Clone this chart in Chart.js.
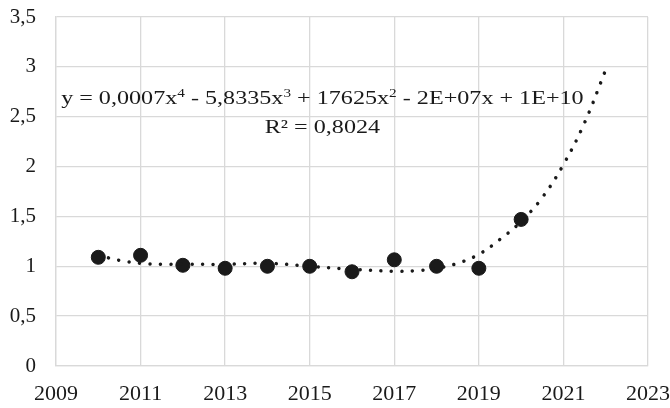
<!DOCTYPE html>
<html>
<head>
<meta charset="utf-8">
<script src="https://cdn.jsdelivr.net/npm/chart.js@4"></script>
<style>
    html, body { margin: 0; padding: 0; background: #fff; }
    #wrap { width: 670px; height: 408px; }
</style>
</head>
<body>
<div id="wrap"><canvas id="chart" width="670" height="408"></canvas></div>
<script>
// Observed values
const years = [2010, 2011, 2012, 2013, 2014, 2015, 2016, 2017, 2018, 2019, 2020];
const values = [1.09, 1.11, 1.01, 0.98, 1.00, 1.00, 0.945, 1.065, 1.00, 0.98, 1.47];

// Polynomial trendline
const trendYears = [2010, 2010.5, 2011, 2011.5, 2012, 2013, 2014, 2015, 2016, 2017, 2017.5, 2018, 2018.5, 2019, 2019.5, 2020, 2020.5, 2021, 2021.5, 2022];
const trendValues = [1.11, 1.06, 1.03, 1.02, 1.02, 1.02, 1.03, 1.00, 0.97, 0.95, 0.955, 0.98, 1.03, 1.12, 1.27, 1.45, 1.69, 2.02, 2.44, 2.97];

const xTicks = [2009, 2011, 2013, 2015, 2017, 2019, 2021, 2023];
const yTicks = [0, 0.5, 1, 1.5, 2, 2.5, 3, 3.5];

const equationParts = [
    ["y = 0,0007x", false], ["4", true], [" - 5,8335x", false], ["3", true],
    [" + 17625x", false], ["2", true], [" - 2E+07x + 1E+10", false]
];
const rSquaredText = "R² = 0,8024";

const serif = "'Liberation Serif', 'Times New Roman', serif";
const textColor = "#1a1a1a";
const gridColor = "#d9d9d9";
const stretch = 1.27; // the reference text is drawn wider than normal

// Draws the trendline equation and R² in the plot
const equationPlugin = {
    id: "equation",
    afterDraw(chart) {
        const ctx = chart.ctx;
        const xs = chart.scales.x;
        const ys = chart.scales.y;
        const cx = xs.getPixelForValue(2015.3);
        const baseFont = "19px " + serif;
        const supFont = "12px " + serif;

        ctx.save();
        ctx.fillStyle = textColor;
        ctx.textBaseline = "alphabetic";
        ctx.textAlign = "left";

        let total = 0;
        equationParts.forEach(([t, sup]) => {
            ctx.font = sup ? supFont : baseFont;
            total += ctx.measureText(t).width;
        });
        const baseY = ys.getPixelForValue(2.63);
        ctx.translate(cx, 0);
        ctx.scale(stretch, 1);
        let x = -total / 2;
        equationParts.forEach(([t, sup]) => {
            ctx.font = sup ? supFont : baseFont;
            ctx.fillText(t, x, sup ? baseY - 7 : baseY);
            x += ctx.measureText(t).width;
        });
        ctx.font = baseFont;
        ctx.textAlign = "center";
        ctx.fillText(rSquaredText, 0, ys.getPixelForValue(2.34));
        ctx.restore();
    }
};

const fmt = v => String(v).replace(".", ",");

new Chart("chart", {
    type: "scatter",
    data: {
        datasets: [
            {
                label: "Trend",
                type: "line",
                data: trendYears.map((x, i) => ({ x: x, y: trendValues[i] })),
                borderColor: textColor,
                borderWidth: 3.5,
                borderDash: [0.01, 10.5],
                borderCapStyle: "round",
                pointRadius: 0,
                tension: 0.4,
                fill: false,
            },
            {
                label: "Values",
                data: years.map((x, i) => ({ x: x, y: values[i] })),
                backgroundColor: textColor,
                borderColor: textColor,
                pointRadius: 7,
                pointHoverRadius: 7,
            },
        ],
    },
    options: {
        responsive: false,
        animation: false,
        layout: { autoPadding: false, padding: { top: 17, right: 1, left: 0, bottom: 0 } },
        plugins: {
            legend: { display: false },
            tooltip: { enabled: false },
        },
        scales: {
            x: {
                type: "linear",
                min: 2009,
                max: 2023,
                afterBuildTicks: axis => { axis.ticks = xTicks.map(v => ({ value: v })); },
                afterFit: axis => { axis.height = 42; },
                grid: { color: gridColor, lineWidth: 1.3, drawTicks: true, tickLength: 15, tickColor: "rgba(0,0,0,0)" },
                border: { color: gridColor, width: 1.3 },
                ticks: {
                    padding: 0,
                    color: textColor,
                    font: { family: serif, size: 22 },
                    callback: v => String(v),
                },
            },
            y: {
                min: 0,
                max: 3.5,
                afterBuildTicks: axis => { axis.ticks = yTicks.map(v => ({ value: v })); },
                afterFit: axis => { axis.width = 56; },
                grid: { color: gridColor, lineWidth: 1.3, drawTicks: true, tickLength: 20, tickColor: "rgba(0,0,0,0)" },
                border: { color: gridColor, width: 1.3 },
                ticks: {
                    padding: 0,
                    color: textColor,
                    font: { family: serif, size: 21 },
                    callback: v => fmt(v),
                },
            },
        },
    },
    plugins: [equationPlugin],
});
</script>
</body>
</html>
